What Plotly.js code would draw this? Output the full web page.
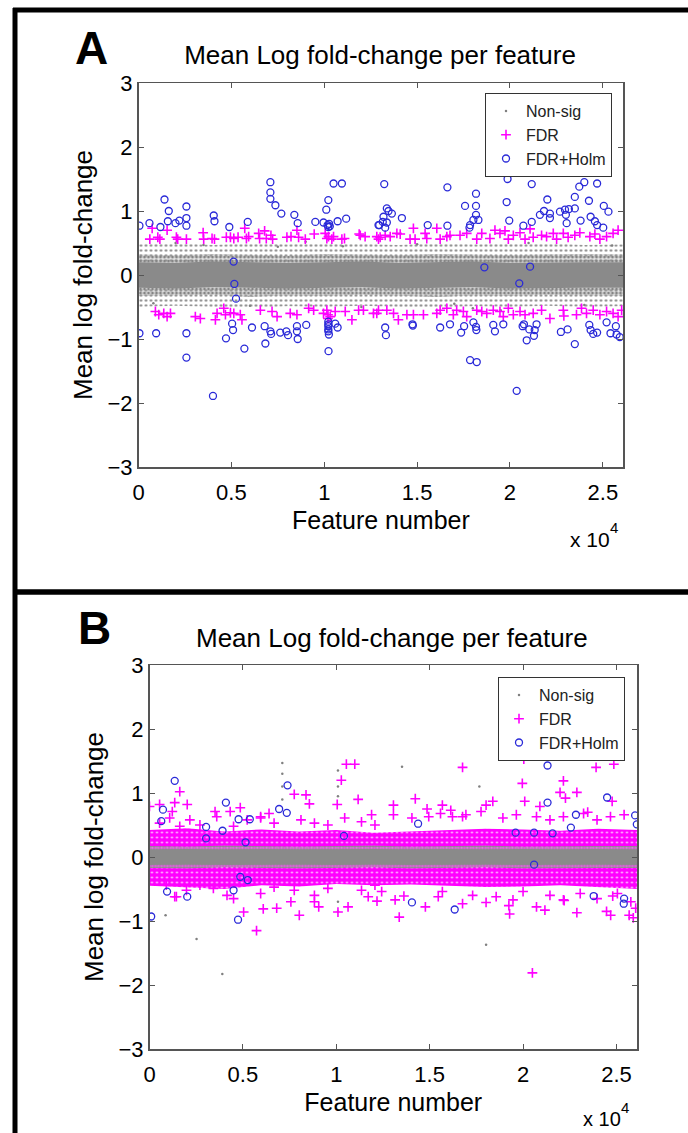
<!DOCTYPE html>
<html>
<head>
<meta charset="utf-8">
<script src="https://cdn.plot.ly/plotly-3.0.1.min.js"></script>
<style>html,body{margin:0;padding:0;background:#fff;}#chart{width:688px;height:1133px;}</style>
</head>
<body>
<div id="chart"></div>
<script>
// ---------- tick labels ----------
const xTickVals = [0, 5000, 10000, 15000, 20000, 25000];
const xTickText = ['0', '0.5', '1', '1.5', '2', '2.5'];
const yTickVals = [-3, -2, -1, 0, 1, 2, 3];

// ---------- density envelopes of the Non-sig / FDR clouds ----------
const bandX   = [0, 2000, 4000, 6000, 8000, 10000, 12000, 14000, 16000, 18000, 20000, 22000, 24000, 26100];
// Panel A (Non-sig cloud)
const aOutHi  = [0.48, 0.50, 0.47, 0.50, 0.48, 0.50, 0.49, 0.47, 0.50, 0.48, 0.49, 0.50, 0.47, 0.48];
const aOutLo  = [-0.50, -0.48, -0.50, -0.52, -0.49, -0.50, -0.48, -0.50, -0.51, -0.49, -0.50, -0.48, -0.50, -0.49];
const aMidHi  = [0.32, 0.31, 0.33, 0.32, 0.30, 0.33, 0.32, 0.31, 0.33, 0.32, 0.31, 0.32, 0.33, 0.32];
const aMidLo  = [-0.33, -0.32, -0.31, -0.34, -0.32, -0.33, -0.31, -0.32, -0.34, -0.32, -0.33, -0.31, -0.32, -0.33];
const aCoreHi = [0.20, 0.19, 0.21, 0.20, 0.19, 0.20, 0.21, 0.19, 0.20, 0.21, 0.19, 0.20, 0.20, 0.20];
const aCoreLo = [-0.20, -0.21, -0.19, -0.20, -0.21, -0.20, -0.19, -0.21, -0.20, -0.19, -0.21, -0.20, -0.20, -0.20];
// Panel B (FDR cloud and Non-sig core)
const bMagHi  = [0.42, 0.45, 0.40, 0.43, 0.40, 0.42, 0.38, 0.40, 0.42, 0.44, 0.43, 0.41, 0.44, 0.42];
const bMagLo  = [-0.45, -0.48, -0.50, -0.44, -0.46, -0.42, -0.44, -0.43, -0.45, -0.47, -0.46, -0.44, -0.47, -0.50];
const bGrayOutHi = [0.17, 0.16, 0.18, 0.17, 0.16, 0.17, 0.18, 0.16, 0.17, 0.18, 0.16, 0.17, 0.17, 0.17];
const bGrayOutLo = [-0.17, -0.18, -0.16, -0.17, -0.18, -0.17, -0.16, -0.18, -0.17, -0.16, -0.18, -0.17, -0.17, -0.17];
const bCoreHi = [0.11, 0.12, 0.11, 0.12, 0.11, 0.12, 0.12, 0.11, 0.12, 0.11, 0.12, 0.11, 0.12, 0.11];
const bCoreLo = [-0.12, -0.11, -0.12, -0.12, -0.11, -0.12, -0.11, -0.12, -0.12, -0.11, -0.12, -0.12, -0.11, -0.12];

// ---------- Panel A individual points ----------
const aHolmX = [50,590,1180,1400,1630,1580,1990,2200,2580,2580,2580,4050,4090,4890,5880,7100,7100,7100,7370,7690,8390,8570,9520,9960,10110,10220,10180,10220,10260,10300,10500,10950,10720,11180,12920,13230,13370,13460,13640,13190,13150,12960,13280,13370,14180,15570,16630,16630,17580,18170,18170,18170,18030,18300,17850,17820,19870,19820,19960,20720,21170,21170,22010,21610,21830,22150,22150,22690,22960,23010,23050,23170,23490,23490,23730,24000,24690,24250,23800,24340,24570,24690,25020,25050,25300,
  5120,5160,5250,18620,21080,20500,
  50,950,2580,2580,4010,4710,5040,5090,5700,6110,6790,6830,7100,7140,7630,7960,8050,8530,8530,8570,9030,10220,10220,10220,10220,10220,10250,10230,10590,10720,13280,13320,14750,14770,16240,16770,17370,17530,18030,18170,18190,17850,18210,19100,19190,19640,20360,20680,20750,20900,21040,21290,21330,21430,22740,23100,23490,24270,24340,24480,24690,25200,25410,25700,25740,25910];
const aHolmY = [0.77,0.81,0.75,1.18,1.0,0.84,0.81,0.85,1.07,0.89,0.77,0.93,0.84,0.75,0.83,1.45,1.29,1.19,1.09,0.96,0.94,0.81,0.83,0.82,1.02,1.17,0.78,0.75,0.80,0.76,1.43,1.43,0.84,0.88,0.78,1.42,1.04,1.0,0.96,0.91,0.83,0.78,0.74,0.82,0.89,0.78,0.77,1.37,1.08,1.27,1.08,0.94,0.86,0.86,0.78,0.74,1.5,1.14,0.85,0.77,1.42,0.83,1.18,0.94,1.0,0.96,0.89,0.99,1.02,0.94,0.81,1.03,1.04,1.22,1.38,1.45,1.43,1.16,0.85,0.91,0.84,0.78,0.74,1.08,0.99,
  0.21,-0.14,-0.37,0.12,0.13,-0.13,
  -0.91,-0.91,-0.91,-1.29,-1.89,-0.99,-0.76,-0.86,-1.15,-0.82,-0.80,-1.07,-0.88,-0.92,-0.90,-0.88,-0.94,-0.80,-0.88,-1.0,-0.78,-0.73,-0.77,-0.80,-0.85,-0.88,-0.93,-1.19,-0.76,-0.82,-0.82,-0.94,-0.77,-0.79,-0.82,-0.77,-0.90,-0.80,-0.74,-0.81,-0.86,-1.33,-1.36,-0.78,-0.88,-0.77,-1.81,-0.80,-0.77,-1.02,-0.85,-0.95,-0.86,-0.77,-0.89,-0.85,-1.08,-0.78,-0.86,-0.92,-0.90,-0.74,-0.91,-0.80,-0.93,-0.97];

const aFdrX = [735,610,1040,1150,1540,2040,2110,2580,3480,3510,3960,4090,4730,4950,5130,5360,5720,5810,5930,6470,6520,6790,6880,7130,7220,7990,8210,8530,8620,8980,9460,10050,10140,10230,10410,10500,10950,11090,11880,12830,12920,
  11940,12200,13010,13280,13550,13910,14090,14620,14800,14890,15430,15520,16060,16240,16600,16770,17310,17670,18210,18480,18920,19190,19460,19730,19910,20180,20540,20810,21080,21250,21700,21970,22330,22510,22870,23130,23490,23760,24300,24570,24840,25200,25550,25820,
  910,1090,1360,1540,1720,3060,3330,4140,4230,4590,4680,4950,5130,5480,5570,6560,7190,7460,8170,8530,9160,9430,9960,10140,10200,10200,10320,10590,11130,11490,11850,12110,12830,
  12650,12920,13370,13730,13990,14450,14800,15340,16060,16240,16600,16950,17130,17490,17670,18210,18480,18750,19100,19460,19640,19910,20180,20540,20810,21250,21700,22150,22870,22900,23580,23850,24120,24480,24840,25200,25550,25820,26010];
const aFdrY = [0.73,0.56,0.59,0.56,0.70,0.59,0.56,0.56,0.66,0.56,0.57,0.56,0.59,0.59,0.57,0.59,0.73,0.57,0.60,0.65,0.57,0.69,0.57,0.62,0.56,0.59,0.60,0.70,0.59,0.56,0.64,0.65,0.57,0.60,0.56,0.60,0.56,0.57,0.64,0.60,0.56,
  0.62,0.60,0.59,0.62,0.60,0.65,0.64,0.56,0.73,0.56,0.65,0.57,0.73,0.56,0.60,0.62,0.62,0.65,0.56,0.65,0.57,0.70,0.65,0.69,0.56,0.62,0.66,0.56,0.72,0.59,0.62,0.60,0.65,0.56,0.65,0.59,0.62,0.66,0.60,0.64,0.56,0.60,0.65,0.70,
  -0.57,-0.62,-0.60,-0.65,-0.60,-0.65,-0.68,-0.70,-0.60,-0.52,-0.62,-0.59,-0.60,-0.62,-0.70,-0.55,-0.57,-0.65,-0.60,-0.62,-0.52,-0.55,-0.60,-0.55,-0.68,-0.62,-0.65,-0.57,-0.57,-0.70,-0.55,-0.55,-0.60,
  -0.60,-0.55,-0.55,-0.60,-0.70,-0.62,-0.62,-0.62,-0.60,-0.55,-0.52,-0.62,-0.55,-0.57,-0.65,-0.55,-0.57,-0.60,-0.55,-0.57,-0.65,-0.52,-0.62,-0.57,-0.62,-0.60,-0.55,-0.68,-0.55,-0.64,-0.62,-0.52,-0.60,-0.55,-0.62,-0.57,-0.60,-0.65,-0.55];

const aNsX = [2000,3500,6000,9000,11000,12000,15000,17000,18000,21000,24000,25500,800,7500,19500];
const aNsY = [0.50,0.47,-0.48,0.52,0.45,-0.50,0.48,-0.45,-0.52,0.50,-0.47,0.46,-0.44,0.44,-0.55];

// ---------- Panel B individual points ----------
const bHolmX = [1350,720,630,4090,4770,5370,3030,6940,7350,7390,21310,21310,24500,22830,26000,14380,90,940,2020,4740,4500,4860,5260,5140,3030,3910,10410,19600,20590,21580,22560,26090,20590,14050,16340,23780,25410,25390];
const bHolmY = [1.19,0.74,0.56,0.85,0.59,0.59,0.47,0.75,0.69,1.12,1.43,0.85,0.93,0.66,0.65,0.52,-0.93,-0.54,-0.62,-0.98,-0.52,-0.31,-0.36,0.23,0.29,0.41,0.33,0.38,0.38,0.37,0.46,0.51,-0.12,-0.71,-0.82,-0.61,-0.65,-0.73];

const bFdrX = [1350,1620,0,540,2020,1220,3510,4320,4860,7750,8380,8560,10270,10540,10990,11170,10050,5950,6400,16760,20040,19960,20090,22160,21980,22270,22880,23910,24860,24770,14230,13060,14860,15680,16130,16760,18380,18020,20900,23460,11890,
  5730,5040,6090,6810,8020,9060,10090,10630,8830,7570,4500,1440,20500,13370,14770,13620,15460,18020,19240,19280,20720,21170,22200,22880,24470,24690,24800,25680,25900,26030,12180,
  540,1080,1620,2160,2700,3600,4500,5230,5950,6670,8110,8830,9550,10450,11350,12070,
  13060,14050,14950,15580,16220,16940,17750,18920,19640,20720,21440,22160,23240,23960,24680,25410,
  900,1350,1980,2700,3420,4150,5950,6670,7750,8830,9550,11350,12070,
  11710,12430,13150,15680,16760,17300,18560,19460,20000,21440,22160,23060,23960,25050,25770];
const bFdrY = [0.85,1.02,0.79,0.82,0.82,0.71,0.71,0.71,0.77,0.98,0.97,0.83,1.20,1.45,1.45,0.90,0.82,0.63,0.68,1.40,1.53,1.15,0.87,1.19,1.01,0.92,1.01,1.40,1.45,0.87,0.91,0.81,0.75,0.81,0.73,0.63,0.87,0.81,0.79,0.70,0.66,
  -1.15,-0.86,-0.81,-0.80,-0.91,-0.78,-0.86,-0.78,-0.70,-0.70,-0.65,-0.62,-1.81,-0.94,-0.78,-0.61,-0.62,-0.71,-0.76,-0.89,-0.78,-0.83,-0.68,-0.87,-0.85,-0.91,-0.61,-0.91,-0.95,-0.80,-0.69,
  0.53,0.61,0.48,0.58,0.50,0.63,0.48,0.58,0.61,0.53,0.58,0.53,0.50,0.61,0.55,0.50,
  0.66,0.61,0.63,0.68,0.63,0.66,0.71,0.61,0.66,0.63,0.58,0.63,0.68,0.58,0.63,0.66,
  -0.44,-0.62,-0.52,-0.44,-0.49,-0.60,-0.57,-0.47,-0.52,-0.60,-0.49,-0.52,-0.44,
  -0.62,-0.54,-0.67,-0.54,-0.73,-0.60,-0.62,-0.67,-0.54,-0.60,-0.67,-0.57,-0.65,-0.57,-0.70];

const bNsX = [860,2520,3900,18020,7110,7110,7110,7110,10090,10090,10090,10090,10090,13520,17660];
const bNsY = [-0.91,-1.28,-1.83,-1.37,1.47,1.30,1.10,0.90,1.35,1.10,0.95,-0.70,-0.85,1.41,1.10];

// ---------- styling ----------
const FONT = 'Liberation Sans, Arial, Helvetica, sans-serif';
const GRAY = '#808080';
const MAG = '#ff00ff';
const BLUE = '#2a2ad8';
const W = 688, H = 1133;
const px = v => v / W;
const py = v => 1 - v / H;

function band(xs, hi, lo, xa, ya, fillcolor, pattern) {
  const t = {
    x: xs.concat(xs.slice().reverse()),
    y: hi.concat(lo.slice().reverse()),
    xaxis: xa, yaxis: ya, type: 'scatter', mode: 'lines',
    fill: 'toself', fillcolor: fillcolor, line: {width: 0, color: 'rgba(0,0,0,0)'},
    hoverinfo: 'skip', showlegend: false
  };
  if (pattern) t.fillpattern = pattern;
  return t;
}
function pts(x, y, xa, ya, name, kind, legend) {
  let marker;
  if (kind === 'ns') marker = {color: GRAY, size: 2.5, symbol: 'circle'};
  else if (kind === 'fdr') marker = {symbol: 'cross-thin-open', size: 7, color: MAG, line: {color: MAG, width: 1.6}};
  else marker = {symbol: 'circle-open', size: 7, color: BLUE, line: {color: BLUE, width: 1.3}};
  return {x: x, y: y, xaxis: xa, yaxis: ya, type: 'scatter', mode: 'markers', name: name,
          marker: marker, legend: legend, showlegend: true, hoverinfo: 'skip'};
}

const traces = [
  // Panel A clouds
  band(bandX, aOutHi, aOutLo, 'x', 'y', 'rgba(0,0,0,0)', {shape: '.', fgcolor: '#8a8a8a', bgcolor: 'rgba(255,255,255,0)', size: 5, solidity: 0.2}),
  band(bandX, aMidHi, aMidLo, 'x', 'y', 'rgba(0,0,0,0)', {shape: '.', fgcolor: '#858585', bgcolor: 'rgba(170,170,170,0.3)', size: 4, solidity: 0.45}),
  band(bandX, aCoreHi, aCoreLo, 'x', 'y', '#8a8a8a'),
  // Panel B clouds
  band(bandX, bMagHi, bMagLo, 'x2', 'y2', MAG, {shape: '.', fgcolor: 'rgba(255,255,255,0.8)', bgcolor: MAG, size: 5, solidity: 0.15}),
  band(bandX, bGrayOutHi, bGrayOutLo, 'x2', 'y2', 'rgba(0,0,0,0)', {shape: '.', fgcolor: '#8a8a8a', bgcolor: 'rgba(235,120,235,0.7)', size: 3, solidity: 0.55}),
  band(bandX, bCoreHi, bCoreLo, 'x2', 'y2', '#8a8a8a'),
  // Panel A points
  pts(aNsX, aNsY, 'x', 'y', 'Non-sig', 'ns', 'legend'),
  pts(aFdrX, aFdrY, 'x', 'y', 'FDR', 'fdr', 'legend'),
  pts(aHolmX, aHolmY, 'x', 'y', 'FDR+Holm', 'holm', 'legend'),
  // Panel B points
  pts(bNsX, bNsY, 'x2', 'y2', 'Non-sig', 'ns', 'legend2'),
  pts(bFdrX, bFdrY, 'x2', 'y2', 'FDR', 'fdr', 'legend2'),
  pts(bHolmX, bHolmY, 'x2', 'y2', 'FDR+Holm', 'holm', 'legend2')
];

function xax(l, r, anchor) {
  return {domain: [px(l), px(r)], range: [0, 26100], anchor: anchor, tickvals: xTickVals, ticktext: xTickText,
          ticks: 'inside', ticklen: 5, tickcolor: '#555', mirror: 'ticks', showline: true, linecolor: '#555', linewidth: 1.5,
          showgrid: false, zeroline: false, ticklabelstandoff: 5, tickfont: {family: FONT, size: 22, color: '#000'}, fixedrange: true,
          title: {text: 'Feature number', standoff: 7, font: {family: FONT, size: 25, color: '#000'}}};
}
function yax(t, b, anchor) {
  return {domain: [py(b), py(t)], range: [-3, 3], anchor: anchor, tickvals: yTickVals,
          ticks: 'inside', ticklen: 5, tickcolor: '#555', mirror: 'ticks', showline: true, linecolor: '#555', linewidth: 1.5,
          showgrid: false, zeroline: false, tickfont: {family: FONT, size: 22, color: '#000'}, fixedrange: true,
          title: {text: 'Mean log fold-change', standoff: 7, font: {family: FONT, size: 26, color: '#000'}}};
}
function txt(text, x, y, size, extra) {
  return Object.assign({text: text, x: px(x), y: py(y), xref: 'paper', yref: 'paper', showarrow: false,
          xanchor: 'center', yanchor: 'middle', font: {family: FONT, size: size, color: '#000'}}, extra || {});
}
function legendCfg(right, top) {
  return {x: px(right), y: py(top), xanchor: 'right', yanchor: 'top', bgcolor: '#fff', bordercolor: '#333', borderwidth: 1,
          font: {family: FONT, size: 16, color: '#222'}, tracegroupgap: 0};
}

const layout = {
  width: W, height: H, margin: {l: 0, r: 0, t: 0, b: 0},
  paper_bgcolor: '#fff', plot_bgcolor: '#fff', showlegend: true,
  title: {text: 'Mean Log fold-change per feature', x: px(380), y: py(55), xref: 'paper', yref: 'paper',
          xanchor: 'center', yanchor: 'middle', font: {family: FONT, size: 26, color: '#000'}},
  xaxis: xax(138.5, 623.3, 'y'), yaxis: yax(83, 467, 'x'),
  xaxis2: xax(149.5, 637, 'y2'), yaxis2: yax(665, 1049, 'x2'),
  legend: legendCfg(612, 93), legend2: legendCfg(625, 677),
  annotations: [
    txt('<b>A</b>', 92, 48, 46),
    txt('x 10', 590, 539, 21),
    txt('4', 614, 527, 15),
    txt('<b>B</b>', 94, 628, 46),
    txt('Mean Log fold-change per feature', 392, 638, 26),
    txt('x 10', 602, 1119, 20),
    txt('4', 625, 1107, 15)
  ],
  shapes: [
    {type: 'line', xref: 'paper', yref: 'paper', x0: px(15), x1: px(15), y0: py(8), y1: 0, line: {color: '#000', width: 5}},
    {type: 'line', xref: 'paper', yref: 'paper', x0: px(13), x1: 1, y0: py(10), y1: py(10), line: {color: '#000', width: 5}},
    {type: 'line', xref: 'paper', yref: 'paper', x0: px(13), x1: 1, y0: py(592), y1: py(592), line: {color: '#000', width: 5.5}}
  ]
};

Plotly.newPlot('chart', traces, layout, {displayModeBar: false, staticPlot: true});
</script>
</body>
</html>
